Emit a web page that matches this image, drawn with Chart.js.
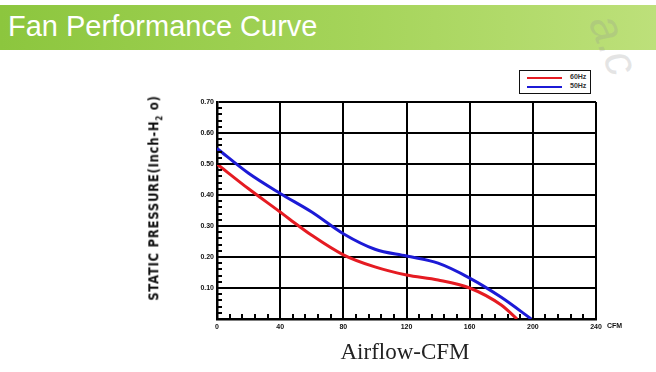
<!DOCTYPE html>
<html lang="en">
<head>
<meta charset="UTF-8">
<title>Fan Performance Curve</title>
<script src="https://cdn.jsdelivr.net/npm/chart.js"></script>
<style>
  html, body { margin: 0; padding: 0; background: #fff; }
  body { width: 656px; height: 372px; position: relative; overflow: hidden; font-family: "Liberation Sans", Arial, sans-serif; }
  .header {
    position: absolute; left: 0; top: 5px; width: 656px; height: 45px;
    background: linear-gradient(to right, #8cc63e, #a5d45a 55%, #bde07a);
  }
  .header h1 {
    margin: 0; position: absolute; left: 8px; top: 5px;
    font: 29px "Liberation Sans", Arial, sans-serif; color: #fff; font-weight: normal;
  }
  .wm {
    position: absolute; left: 628px; top: 6px; font: italic 46px "Liberation Sans", sans-serif;
    color: rgba(150,150,150,0.25); transform: rotate(68deg); transform-origin: left top;
    white-space: nowrap;
  }
  #wrap { position: absolute; left: 0; top: 0; width: 656px; height: 372px; }
  .ytitle {
    position: absolute; left: 155px; top: 198px; transform: translate(-50%, -50%) rotate(-90deg) scale(1, 1.1);
    font: bold 13px "DejaVu Sans Condensed", "DejaVu Sans", sans-serif; letter-spacing: 0.7px;
    white-space: nowrap; color: #111;
  }
  .ytitle sub { font-size: 8px; }
  .xtitle {
    position: absolute; left: 405px; top: 352px; transform: translate(-50%, -50%);
    font: 23px "Liberation Serif", serif; color: #222; white-space: nowrap;
  }
  .legend {
    position: absolute; left: 519px; top: 70px; width: 70px; height: 22px;
    border: 1.5px solid #111; background: #fff; font: bold 7px "Liberation Sans", Arial, sans-serif;
  }
  .legend .row { position: absolute; left: 7px; height: 8px; }
  .legend .ln { position: absolute; left: 0; top: 3px; width: 35px; height: 2px; }
  .legend .tx { position: absolute; left: 43px; top: -1px; color: #333; }
</style>
</head>
<body>
<div class="header"><h1>Fan Performance Curve</h1></div>
<div class="wm">a.c</div>
<div id="wrap"><canvas id="chart" width="656" height="372"></canvas></div>
<div class="ytitle">STATIC PRESSURE(Inch-H<sub>2</sub> o)</div>
<div class="xtitle">Airflow-CFM</div>
<div class="legend">
  <div class="row" style="top:3px"><div class="ln" style="background:#e51b22"></div><div class="tx">60Hz</div></div>
  <div class="row" style="top:12px"><div class="ln" style="background:#1c1ad6"></div><div class="tx">50Hz</div></div>
</div>

<script>
// airflow (CFM) vs static pressure (inch H2O)
const cfm60 = [0, 20, 40, 46, 60, 80, 100, 120, 140, 160, 180, 190];
const hz60 = [0.50, 0.42, 0.345, 0.322, 0.27, 0.207, 0.168, 0.142, 0.126, 0.10, 0.045, 0];
const cfm50 = [0, 20, 40, 60, 80, 100, 120, 140, 160, 180, 199];
const hz50 = [0.55, 0.47, 0.405, 0.345, 0.275, 0.225, 0.203, 0.18, 0.132, 0.07, 0];
const xTicks = [0, 40, 80, 120, 160, 200, 240];
const yTicks = [0, 0.10, 0.20, 0.30, 0.40, 0.50, 0.60, 0.70];

const toPts = (xs, ys) => xs.map((x, i) => ({ x: x, y: ys[i] }));

// small inner ticks along left and bottom axes, plus "CFM" unit label
const minorTicks = {
  id: 'minorTicks',
  afterDraw(chart) {
    const { ctx, chartArea: a, scales: { x, y } } = chart;
    ctx.save();
    ctx.strokeStyle = '#000';
    ctx.lineWidth = 2;
    ctx.beginPath();
    for (let v = 0.02; v < 0.7; v += 0.02) {
      const py = Math.round(y.getPixelForValue(v));
      ctx.moveTo(a.left, py); ctx.lineTo(a.left + 5, py);
    }
    for (let v = 8; v < 240; v += 8) {
      const px = Math.round(x.getPixelForValue(v));
      ctx.moveTo(px, a.bottom); ctx.lineTo(px, a.bottom - 5);
    }
    ctx.stroke();
    ctx.fillStyle = '#111';
    ctx.font = 'bold 7px "Liberation Sans", Arial, sans-serif';
    ctx.textBaseline = 'top';
    ctx.fillText('CFM', a.right + 11, a.bottom + 4);
    ctx.restore();
  }
};

new Chart(document.getElementById('chart'), {
  type: 'line',
  data: {
    datasets: [
      { label: '60Hz', data: toPts(cfm60, hz60), borderColor: '#e51b22', borderWidth: 3, pointRadius: 0, cubicInterpolationMode: 'monotone', order: 1 },
      { label: '50Hz', data: toPts(cfm50, hz50), borderColor: '#1c1ad6', borderWidth: 3, pointRadius: 0, cubicInterpolationMode: 'monotone', order: 2 }
    ]
  },
  options: {
    responsive: false,
    animation: false,
    devicePixelRatio: 1,
    layout: { padding: { left: 187, right: 60, top: 102, bottom: 33 } },
    plugins: { legend: { display: false }, tooltip: { enabled: false } },
    scales: {
      x: {
        type: 'linear', min: 0, max: 240,
        afterBuildTicks: s => { s.ticks = xTicks.map(v => ({ value: v })); },
        afterFit: s => { s.height = 20; },
        grid: { color: '#000', lineWidth: 2, drawTicks: false },
        border: { color: '#000', width: 2.5 },
        ticks: { color: '#111', font: { size: 7, weight: 'bold', family: '"Liberation Sans", Arial' }, padding: 4, maxRotation: 0 }
      },
      y: {
        min: 0, max: 0.7,
        afterBuildTicks: s => { s.ticks = yTicks.map(v => ({ value: v })); },
        afterFit: s => { s.width = 30; },
        grid: { color: '#000', lineWidth: 2, drawTicks: false },
        border: { color: '#000', width: 2.5 },
        ticks: { color: '#111', font: { size: 7, weight: 'bold', family: '"Liberation Sans", Arial' }, padding: 3,
          callback: v => v === 0 ? '' : v.toFixed(2) }
      }
    }
  },
  plugins: [minorTicks]
});
</script>
</body>
</html>
